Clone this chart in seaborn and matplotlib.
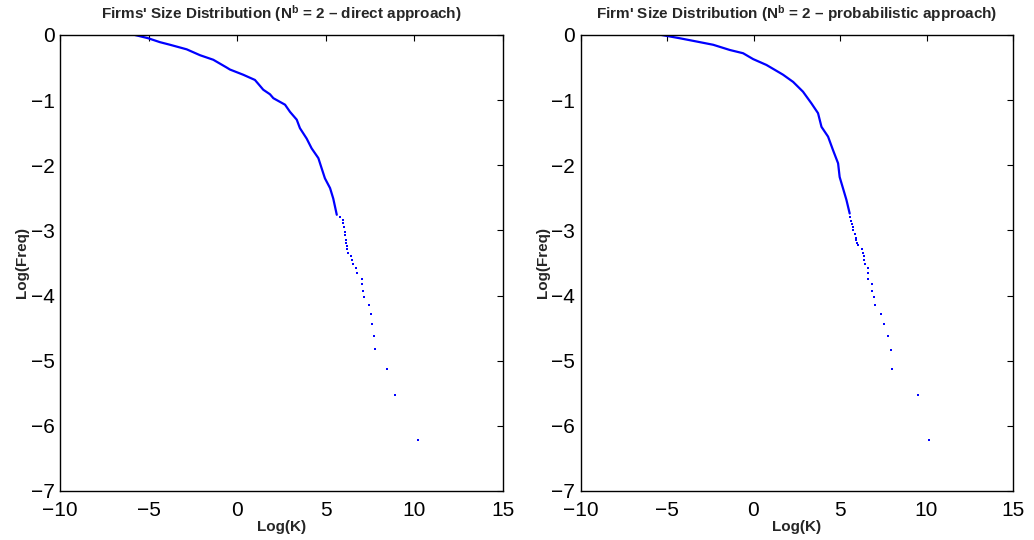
import matplotlib
matplotlib.use("Agg")
import matplotlib.pyplot as plt
import seaborn as sns
import pandas as pd

# Log-log rank/size distribution of firm capital, two estimation approaches.
# Dense body of each distribution (traced as a curve)
direct_body_x = [-5.77, -5.02, -4.36, -3.79, -2.85, -2.10, -1.35, -0.59, -0.41, 0.34,
                 1.00, 1.19, 1.47, 1.85, 2.04, 2.70, 2.98, 3.36, 3.54, 3.92,
                 4.20, 4.58, 4.77, 4.95, 5.24, 5.42, 5.62]
direct_body_y = [0.00, -0.05, -0.11, -0.15, -0.22, -0.31, -0.38, -0.50, -0.53, -0.61,
                 -0.69, -0.75, -0.84, -0.91, -0.97, -1.07, -1.18, -1.30, -1.43, -1.59,
                 -1.74, -1.89, -2.05, -2.20, -2.35, -2.51, -2.76]

# Sparse upper tail (individual largest firms)
direct_tail_x = [5.80, 5.95, 5.99, 6.04, 6.07, 6.08, 6.12, 6.14, 6.18, 6.20,
                 6.27, 6.42, 6.46, 6.52, 6.70, 6.78, 7.03, 7.04, 7.12, 7.17,
                 7.45, 7.55, 7.59, 7.74, 7.76, 8.47, 8.89, 10.22]
direct_tail_y = [-2.79, -2.84, -2.89, -2.94, -3.02, -3.07, -3.14, -3.19, -3.24, -3.29,
                 -3.34, -3.39, -3.45, -3.52, -3.58, -3.66, -3.74, -3.83, -3.93, -4.02,
                 -4.14, -4.28, -4.43, -4.62, -4.82, -5.13, -5.53, -6.22]

prob_body_x = [-5.31, -4.26, -3.29, -2.33, -1.37, -0.60, -0.02, 0.75, 1.52, 1.71,
               2.29, 2.86, 3.35, 3.73, 3.93, 4.31, 4.60, 4.89, 4.98, 5.17,
               5.37, 5.56]
prob_body_y = [0.00, -0.05, -0.10, -0.15, -0.23, -0.28, -0.37, -0.46, -0.58, -0.61,
               -0.72, -0.87, -1.05, -1.20, -1.41, -1.56, -1.77, -1.97, -2.18, -2.35,
               -2.53, -2.74]

prob_tail_x = [5.60, 5.66, 5.72, 5.73, 5.75, 5.87, 5.92, 5.95, 5.98, 6.02,
               6.25, 6.31, 6.37, 6.39, 6.43, 6.60, 6.60, 6.60, 6.83, 6.85,
               6.96, 7.00, 7.39, 7.54, 7.79, 7.95, 8.00, 9.49, 10.16]
prob_tail_y = [-2.79, -2.85, -2.90, -2.95, -3.00, -3.05, -3.11, -3.15, -3.19, -3.23,
               -3.28, -3.34, -3.39, -3.45, -3.52, -3.58, -3.66, -3.74, -3.83, -3.93,
               -4.02, -4.14, -4.28, -4.43, -4.62, -4.84, -5.13, -5.53, -6.22]

x_ticks = [-10, -5, 0, 5, 10, 15]
y_ticks = [-7, -6, -5, -4, -3, -2, -1, 0]

titles = [r"Firms' Size Distribution ($\mathbf{N^b}$ = 2 – direct approach)",
          r"Firm' Size Distribution ($\mathbf{N^b}$ = 2 – probabilistic approach)"]

sns.set_style("white")
plt.rcParams["font.family"] = ["Liberation Sans", "DejaVu Sans"]
plt.rcParams["mathtext.fontset"] = "custom"
plt.rcParams["mathtext.rm"] = "Liberation Sans"
plt.rcParams["mathtext.bf"] = "Liberation Sans:bold"
plt.rcParams["axes.unicode_minus"] = True

W, H = 1034, 540
fig = plt.figure(figsize=(W / 100, H / 100), dpi=100)
ax1 = fig.add_axes([60 / W, 49 / H, 443 / W, 456 / H])
ax2 = fig.add_axes([580.5 / W, 49 / H, 432.5 / W, 456 / H])

panels = [
    (ax1, direct_body_x, direct_body_y, direct_tail_x, direct_tail_y, titles[0]),
    (ax2, prob_body_x, prob_body_y, prob_tail_x, prob_tail_y, titles[1]),
]

for ax, bx, by, tx, ty, title in panels:
    body = pd.DataFrame({"x": bx, "y": by})
    tail = pd.DataFrame({"x": tx, "y": ty})
    sns.lineplot(data=body, x="x", y="y", ax=ax, color="#0000ff",
                 linewidth=1.6, sort=False, estimator=None)
    sns.scatterplot(data=tail, x="x", y="y", ax=ax, color="#0000ff",
                    marker="s", s=3.5, linewidth=0)
    ax.set_xlim(-10, 15)
    ax.set_ylim(-7, 0)
    ax.set_xticks(x_ticks)
    ax.set_yticks(y_ticks)
    ax.tick_params(direction="in", length=4, width=0.8, top=True, right=True,
                   labelsize=15, colors="black")
    ax.tick_params(axis="x", pad=7)
    ax.tick_params(axis="y", pad=4)
    for sp in ax.spines.values():
        sp.set_visible(True)
        sp.set_color("black")
        sp.set_linewidth(1.0)
    ax.set_xlabel("Log(K)", fontsize=11, fontweight="bold", labelpad=0)
    ax.set_ylabel("Log(Freq)", fontsize=11, fontweight="bold", labelpad=1)
    ax.set_title(title, fontsize=11, fontweight="bold", pad=12)

fig.savefig("out.png", dpi=100)
